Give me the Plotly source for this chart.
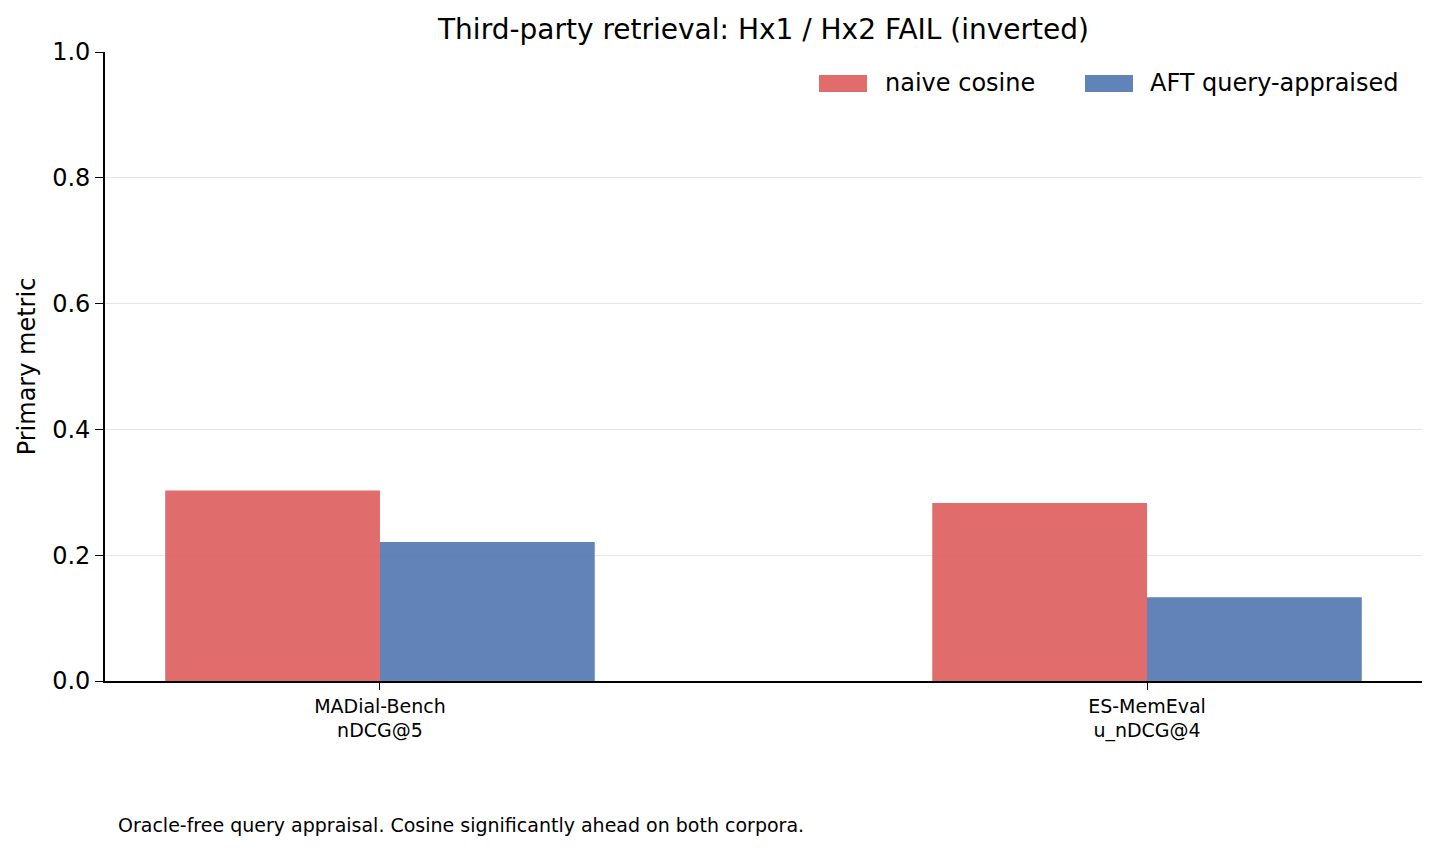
import plotly.graph_objects as go

categories = ["MADial-Bench<br>nDCG@5", "ES-MemEval<br>u_nDCG@4"]
series_names = ["naive cosine", "AFT query-appraised"]
naive_vals = [0.303, 0.283]
aft_vals = [0.221, 0.133]
y_ticks = [0.0, 0.2, 0.4, 0.6, 0.8, 1.0]
colors = ["rgba(221,92,92,0.9)", "rgba(81,117,176,0.9)"]

xpos = list(range(len(categories)))
FONT = "DejaVu Sans"

# page has an 8px body margin; figure sized so plot area lands at x 105-1422, y 52-681 on screen
W, H = 1431, 845
PL, PR, PT, PB = 105, 1422, 52, 681  # screen coords of plot area
OFF = 8


def px(x):
    return (x - PL) / (PR - PL)


def py(y):
    return (PB - y) / (PB - PT)


fig = go.Figure()
for name, vals, col in zip(series_names, [naive_vals, aft_vals], colors):
    fig.add_trace(go.Bar(x=xpos, y=vals, name=name, showlegend=False,
                         marker=dict(color=col, line=dict(width=0))))

# manual legend (matplotlib-style wide patches)
shapes = []
annotations = []
legend_layout = [(819, 867, 883), (1085, 1133, 1148)]
for (x0, x1, tx), name, col in zip(legend_layout, series_names, colors):
    shapes.append(dict(type="rect", xref="paper", yref="paper", x0=px(x0), x1=px(x1),
                       y0=py(92), y1=py(75), fillcolor=col, line=dict(width=0)))
    annotations.append(dict(text=name, xref="paper", yref="paper", x=px(tx), y=py(83),
                            xanchor="left", yanchor="middle", showarrow=False,
                            font=dict(size=24, family=FONT, color="black")))

annotations.append(dict(text="Oracle-free query appraisal. Cosine significantly ahead on both corpora.",
                        xref="paper", yref="paper", x=px(116), y=py(825),
                        xanchor="left", yanchor="middle", showarrow=False,
                        font=dict(size=19, family=FONT, color="black")))

fig.update_layout(
    width=W, height=H,
    margin=dict(l=PL - OFF, r=W - (PR - OFF), t=PT - OFF, b=H - (PB - OFF)),
    paper_bgcolor="white", plot_bgcolor="white",
    barmode="group", bargap=0.44, bargroupgap=0,
    font=dict(family=FONT, color="black"),
    title=dict(text="Third-party retrieval: Hx1 / Hx2 FAIL (inverted)", x=0.5, xref="paper",
               xanchor="center", y=1 - (29 - OFF) / H, yanchor="middle", font=dict(size=28, family=FONT)),
    showlegend=False,
    xaxis=dict(range=[-0.3585, 1.3585], tickvals=xpos, ticktext=categories,
               showline=True, linecolor="black", linewidth=1.6, ticks="outside", ticklen=7,
               tickcolor="black", tickwidth=1.3, showgrid=False, zeroline=False,
               tickfont=dict(size=19, family=FONT)),
    yaxis=dict(range=[0, 1], tickvals=y_ticks, ticktext=[f"{v:.1f}" for v in y_ticks],
               showline=True, linecolor="black", linewidth=1.6, ticks="outside", ticklen=8,
               tickcolor="black", tickwidth=1.3, showgrid=True, gridcolor="#e6e6e6", gridwidth=1,
               zeroline=False, tickfont=dict(size=24, family=FONT),
               title=dict(text="Primary metric", font=dict(size=24, family=FONT), standoff=10)),
    shapes=shapes,
    annotations=annotations,
)

fig.write_html("out.html")
